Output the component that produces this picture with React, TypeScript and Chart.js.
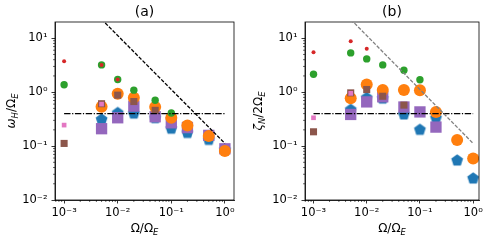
import React, { useEffect, useRef } from 'react';
import { Chart, registerables } from 'chart.js';

Chart.register(...registerables);

// ---------- data ----------
const OMEGA_RATIO = [0.001, 0.005, 0.01, 0.02, 0.05, 0.1, 0.2, 0.5, 1];

// panel (a): omega_H / Omega_E
const A_BLUE = [null, 0.31, 0.41, 0.40, 0.33, 0.21, 0.175, 0.13, 0.085];
const A_ORANGE = [null, 0.535, 0.93, 0.79, 0.53, 0.335, 0.24, 0.153, 0.081];
const A_GREEN = [1.37, 3.2, 1.72, 1.09, 0.71, 0.41, null, null, null];
const A_RED = [3.75, 3.2, 1.72, null, null, null, null, null, null];
const A_PURPLE = [null, 0.21, 0.335, 0.55, 0.35, 0.27, 0.22, 0.158, 0.089];
const A_BROWN = [0.112, 0.61, 0.88, 0.67, 0.46, null, null, null, null];
const A_PINK = [0.245, 0.6, null, null, null, null, null, null, null];

// panel (b): zeta_N / 2 Omega_E
const B_BLUE = [null, 0.47, 0.78, 0.76, 0.386, 0.2, 0.33, 0.054, 0.025];
const B_ORANGE = [null, 0.77, 1.39, 1.1, 1.1, 1.08, 0.43, 0.129, 0.059];
const B_GREEN = [2.15, 5.35, 4.14, 3.2, 2.55, 1.7, null, null, null];
const B_RED = [5.5, 8.8, 6.4, null, null, null, null, null, null];
const B_PURPLE = [null, 0.386, 0.66, 0.82, 0.53, 0.43, 0.225, null, null];
const B_BROWN = [0.184, 0.97, 1.12, 0.84, 0.575, null, null, null, null];
const B_PINK = [0.335, 0.95, null, null, null, null, null, null, null];

// reference lines
const SLOPE_LINE_X = [0.001, 1];
const SLOPE_LINE_Y = [112, 0.112];
const LEVEL_LINE_X = [0.001, 1];
const LEVEL_LINE_Y = [0.4, 0.4];

// ticks
const X_TICKS = [0.001, 0.01, 0.1, 1];
const X_TICK_LABELS = ['10\u207B\u00B3', '10\u207B\u00B2', '10\u207B\u00B9', '10\u2070'];
const Y_TICKS = [0.01, 0.1, 1, 10];
const Y_TICK_LABELS = ['10\u207B\u00B2', '10\u207B\u00B9', '10\u2070', '10\u00B9'];

const FONT = '"DejaVu Sans", sans-serif';

type Seg = { t: string; it?: boolean; sub?: boolean };

function drawRich(ctx: CanvasRenderingContext2D, segs: Seg[], size: number, cx: number, cy: number, rotate: boolean) {
  ctx.save();
  ctx.translate(cx, cy);
  if (rotate) ctx.rotate(-Math.PI / 2);
  const fontFor = (s: Seg) => `${s.it ? 'italic ' : ''}${s.sub ? size * 0.7 : size}px ${FONT}`;
  let w = 0;
  for (const s of segs) {
    ctx.font = fontFor(s);
    w += ctx.measureText(s.t).width;
  }
  let x = -w / 2;
  ctx.textAlign = 'left';
  ctx.textBaseline = 'alphabetic';
  ctx.fillStyle = '#000';
  for (const s of segs) {
    ctx.font = fontFor(s);
    ctx.fillText(s.t, x, s.sub ? size * 0.24 : 0);
    x += ctx.measureText(s.t).width;
  }
  ctx.restore();
}

function makePentagon(color: string, R: number): HTMLCanvasElement {
  const c = document.createElement('canvas');
  const s = Math.ceil(2 * R + 2);
  c.width = s;
  c.height = s;
  const g = c.getContext('2d')!;
  g.fillStyle = color;
  g.beginPath();
  for (let k = 0; k < 5; k++) {
    const th = -Math.PI / 2 + (2 * Math.PI * k) / 5;
    const px = s / 2 + R * Math.cos(th);
    const py = s / 2 + R * Math.sin(th);
    if (k === 0) g.moveTo(px, py);
    else g.lineTo(px, py);
  }
  g.closePath();
  g.fill();
  return c;
}

interface PanelSpec {
  title: string;
  ylabel: Seg[];
  ylabelX: number;
  yAxisWidth: number;
  padRight: number;
  xmin: number;
  xmax: number;
  blue: (number | null)[];
  orange: (number | null)[];
  green: (number | null)[];
  red: (number | null)[];
  purple: (number | null)[];
  brown: (number | null)[];
  pink: (number | null)[];
  slopeColor: string;
}

function pts(vals: (number | null)[]) {
  const out: { x: number; y: number }[] = [];
  OMEGA_RATIO.forEach((x, i) => {
    const v = vals[i];
    if (v !== null && v !== undefined) out.push({ x, y: v });
  });
  return out;
}

function linePts(xs: number[], ys: number[]) {
  return xs.map((x, i) => ({ x, y: ys[i] }));
}

function buildConfig(p: PanelSpec): any {
  const pent = makePentagon('#1f77b4', 6.2);
  const scatter = (label: string, vals: (number | null)[], color: string, style: any, r: number, order: number) => ({
    label,
    data: pts(vals),
    pointStyle: style,
    pointRadius: r,
    pointHoverRadius: r,
    backgroundColor: color,
    borderColor: color,
    borderWidth: 0,
    pointBorderWidth: 0,
    showLine: false,
    order,
  });
  const datasets = [
    {
      label: 'slope',
      data: linePts(SLOPE_LINE_X, SLOPE_LINE_Y),
      showLine: true,
      borderColor: p.slopeColor,
      borderWidth: 1.3,
      borderDash: [3.7, 1.6],
      pointRadius: 0,
      fill: false,
      order: 0,
    },
    {
      label: 'level',
      data: linePts(LEVEL_LINE_X, LEVEL_LINE_Y),
      showLine: true,
      borderColor: '#000',
      borderWidth: 1.3,
      borderDash: [6.4, 1.6, 1.2, 1.6],
      pointRadius: 0,
      fill: false,
      order: 1,
    },
    scatter('red', p.red, '#d62728', 'circle', 2, 2),
    scatter('green', p.green, '#2ca02c', 'circle', 3.7, 3),
    scatter('pink', p.pink, '#e377c2', 'rect', 3.3, 4),
    scatter('brown', p.brown, '#8c564b', 'rect', 5, 5),
    scatter('orange', p.orange, '#ff7f0e', 'circle', 6, 6),
    scatter('purple', p.purple, '#9467bd', 'rect', 8, 7),
    scatter('blue', p.blue, '#1f77b4', pent, 6, 8),
  ];

  const decorPlugin = {
    id: 'decor' + p.title,
    afterDraw(chart: any) {
      const ctx = chart.ctx as CanvasRenderingContext2D;
      const a = chart.chartArea;
      const xs = chart.scales.x;
      const ys = chart.scales.y;
      ctx.save();
      // frame
      ctx.strokeStyle = '#000';
      ctx.lineWidth = 0.8;
      ctx.strokeRect(a.left, a.top, a.right - a.left, a.bottom - a.top);
      // minor ticks
      ctx.lineWidth = 0.6;
      ctx.beginPath();
      for (let n = -5; n <= 2; n++) {
        for (let k = 2; k <= 9; k++) {
          const v = k * Math.pow(10, n);
          if (v > xs.min && v < xs.max) {
            const px = xs.getPixelForValue(v);
            ctx.moveTo(px, a.bottom);
            ctx.lineTo(px, a.bottom + 2);
          }
          if (v > ys.min && v < ys.max) {
            const py = ys.getPixelForValue(v);
            ctx.moveTo(a.left, py);
            ctx.lineTo(a.left - 2, py);
          }
        }
      }
      ctx.stroke();
      // title
      const cx = (a.left + a.right) / 2;
      ctx.fillStyle = '#000';
      ctx.font = `14px ${FONT}`;
      ctx.textAlign = 'center';
      ctx.textBaseline = 'middle';
      ctx.fillText(p.title, cx, 12.5);
      ctx.restore();
      // x label
      drawRich(ctx, [{ t: '\u03A9/\u03A9' }, { t: 'E', it: true, sub: true }], 12, cx, 232, false);
      // y label
      drawRich(ctx, p.ylabel, 12, p.ylabelX, (a.top + a.bottom) / 2, true);
    },
  };

  return {
    type: 'scatter',
    data: { datasets },
    plugins: [decorPlugin],
    options: {
      animation: false,
      responsive: false,
      maintainAspectRatio: false,
      events: [],
      layout: { padding: { left: 0, right: p.padRight, top: 22, bottom: 0 } },
      plugins: { legend: { display: false }, tooltip: { enabled: false }, title: { display: false } },
      scales: {
        x: {
          type: 'logarithmic',
          bounds: 'data',
          min: p.xmin,
          max: p.xmax,
          afterBuildTicks: (s: any) => {
            s.ticks = X_TICKS.map((v) => ({ value: v, major: true }));
          },
          afterFit: (s: any) => {
            s.height = 43;
            s.paddingLeft = 0;
            s.paddingRight = 0;
          },
          ticks: {
            autoSkip: false,
            maxRotation: 0,
            minRotation: 0,
            padding: 3,
            color: '#000',
            font: { family: FONT, size: 11.5 },
            callback: (_v: any, i: number) => X_TICK_LABELS[i],
          },
          grid: { drawOnChartArea: false, drawTicks: true, tickLength: 3.5, tickWidth: 0.8, tickColor: '#000' },
          border: { display: true, color: '#000', width: 0.8 },
        },
        y: {
          type: 'logarithmic',
          bounds: 'data',
          min: 0.01,
          max: 20,
          afterBuildTicks: (s: any) => {
            s.ticks = Y_TICKS.map((v) => ({ value: v, major: true }));
          },
          afterFit: (s: any) => {
            s.width = p.yAxisWidth;
            s.paddingTop = 0;
            s.paddingBottom = 0;
          },
          ticks: {
            autoSkip: false,
            padding: 4,
            color: '#000',
            font: { family: FONT, size: 11.5 },
            callback: (_v: any, i: number) => Y_TICK_LABELS[i],
          },
          grid: { drawOnChartArea: false, drawTicks: true, tickLength: 3.5, tickWidth: 0.8, tickColor: '#000' },
          border: { display: true, color: '#000', width: 0.8 },
        },
      },
    },
  };
}

const PANEL_A: PanelSpec = {
  title: '(a)',
  ylabel: [{ t: '\u03C9', it: true }, { t: 'H', it: true, sub: true }, { t: '/\u03A9' }, { t: 'E', it: true, sub: true }],
  ylabelX: 15,
  yAxisWidth: 55,
  padRight: 9,
  xmin: Math.pow(10, -3.17),
  xmax: Math.pow(10, 0.17),
  blue: A_BLUE,
  orange: A_ORANGE,
  green: A_GREEN,
  red: A_RED,
  purple: A_PURPLE,
  brown: A_BROWN,
  pink: A_PINK,
  slopeColor: '#000',
};

const PANEL_B: PanelSpec = {
  title: '(b)',
  ylabel: [{ t: '\u03B6', it: true }, { t: 'N', it: true, sub: true }, { t: '/2\u03A9' }, { t: 'E', it: true, sub: true }],
  ylabelX: 19,
  yAxisWidth: 62,
  padRight: 6,
  xmin: Math.pow(10, -3.16),
  xmax: Math.pow(10, 0.11),
  blue: B_BLUE,
  orange: B_ORANGE,
  green: B_GREEN,
  red: B_RED,
  purple: B_PURPLE,
  brown: B_BROWN,
  pink: B_PINK,
  slopeColor: '#808080',
};

function Panel({ spec, left, width }: { spec: PanelSpec; left: number; width: number }) {
  const ref = useRef<HTMLCanvasElement | null>(null);
  useEffect(() => {
    if (!ref.current) return;
    const chart = new Chart(ref.current, buildConfig(spec));
    return () => chart.destroy();
  }, [spec]);
  return (
    <canvas
      ref={ref}
      width={width}
      height={243}
      style={{ position: 'absolute', left, top: 0, width, height: 243 }}
    />
  );
}

export default function App() {
  useEffect(() => {
    document.body.style.margin = '0';
  }, []);
  return (
    <div style={{ position: 'fixed', left: 0, top: 0, width: 487, height: 243, background: '#fff', overflow: 'hidden' }}>
      <Panel spec={PANEL_A} left={0} width={243} />
      <Panel spec={PANEL_B} left={243} width={244} />
    </div>
  );
}
